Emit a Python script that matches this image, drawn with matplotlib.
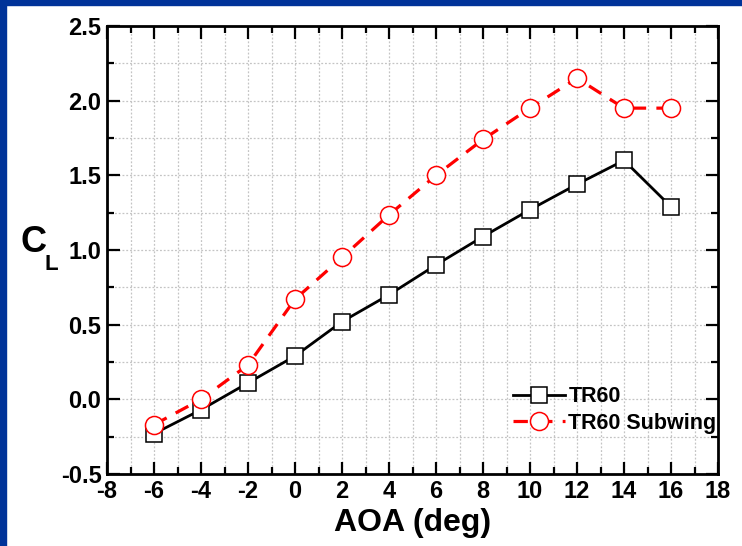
import matplotlib
matplotlib.use('Agg')
import matplotlib.pyplot as plt
from matplotlib.patches import Rectangle
from matplotlib.ticker import MultipleLocator, FormatStrFormatter

# data
aoa = [-6, -4, -2, 0, 2, 4, 6, 8, 10, 12, 14, 16]
cl_tr60 = [-0.23, -0.07, 0.11, 0.29, 0.52, 0.70, 0.90, 1.09, 1.27, 1.44, 1.60, 1.29]
cl_subwing = [-0.17, 0.00, 0.23, 0.67, 0.95, 1.235, 1.50, 1.74, 1.95, 2.15, 1.95, 1.95]
series_labels = ['TR60', 'TR60 Subwing']

plt.rcParams['font.family'] = ['Liberation Sans', 'DejaVu Sans']
plt.rcParams['font.weight'] = 'bold'
plt.rcParams['axes.unicode_minus'] = False

W, H = 742, 546
fig = plt.figure(figsize=(W / 100, H / 100), dpi=100)
ax = fig.add_axes([107 / W, 1 - 474 / H, (718 - 107) / W, (474 - 26) / H])

# blue frame on left and top
blue = '#003399'
fig.add_artist(Rectangle((0, 0), 6 / W, 1, transform=fig.transFigure, color=blue, zorder=10))
fig.add_artist(Rectangle((0, 1 - 5 / H), 1, 5 / H, transform=fig.transFigure, color=blue, zorder=10))

ax.plot(aoa, cl_tr60, color='black', lw=2, marker='s', markersize=11.5,
        markerfacecolor='white', markeredgecolor='black', markeredgewidth=1.1,
        label=series_labels[0], zorder=3)
ax.plot(aoa, cl_subwing, color='red', lw=2.3, linestyle=(0, (4.5, 3.2)), marker='o',
        markersize=13, markerfacecolor='white', markeredgecolor='red',
        markeredgewidth=1.1, label=series_labels[1], zorder=3)

ax.set_xlim(-8, 18)
ax.set_ylim(-0.5, 2.5)
ax.xaxis.set_major_locator(MultipleLocator(2))
ax.xaxis.set_minor_locator(MultipleLocator(1))
ax.yaxis.set_major_locator(MultipleLocator(0.5))
ax.yaxis.set_minor_locator(MultipleLocator(0.25))
ax.yaxis.set_major_formatter(FormatStrFormatter('%.1f'))

ax.grid(True, which='both', color='#c4c4c4', linestyle=(0, (1.5, 1.5)), lw=0.9, zorder=0)
ax.tick_params(which='both', direction='in', top=True, right=True, width=1.6,
               labelsize=17, pad=4)
ax.tick_params(which='major', length=9)
ax.tick_params(which='minor', length=5)
for lab in ax.get_xticklabels() + ax.get_yticklabels():
    lab.set_fontweight('bold')
for sp in ax.spines.values():
    sp.set_linewidth(2)

ax.set_xlabel('AOA (deg)', fontsize=23, fontweight='bold', labelpad=4)

# C_L label
fig.text(33 / W, 1 - 243 / H, 'C', fontsize=26, fontweight='bold', ha='center', va='center')
fig.text(51 / W, 1 - 264 / H, 'L', fontsize=16, fontweight='bold', ha='center', va='center')

leg = ax.legend(loc='center left', bbox_to_anchor=(494 / W, 1 - 410 / H),
                bbox_transform=fig.transFigure, frameon=False, fontsize=15.5,
                handlelength=2.4, handletextpad=0.15, labelspacing=0.25)
for t in leg.get_texts():
    t.set_fontweight('bold')

fig.savefig('out.png', dpi=100)
